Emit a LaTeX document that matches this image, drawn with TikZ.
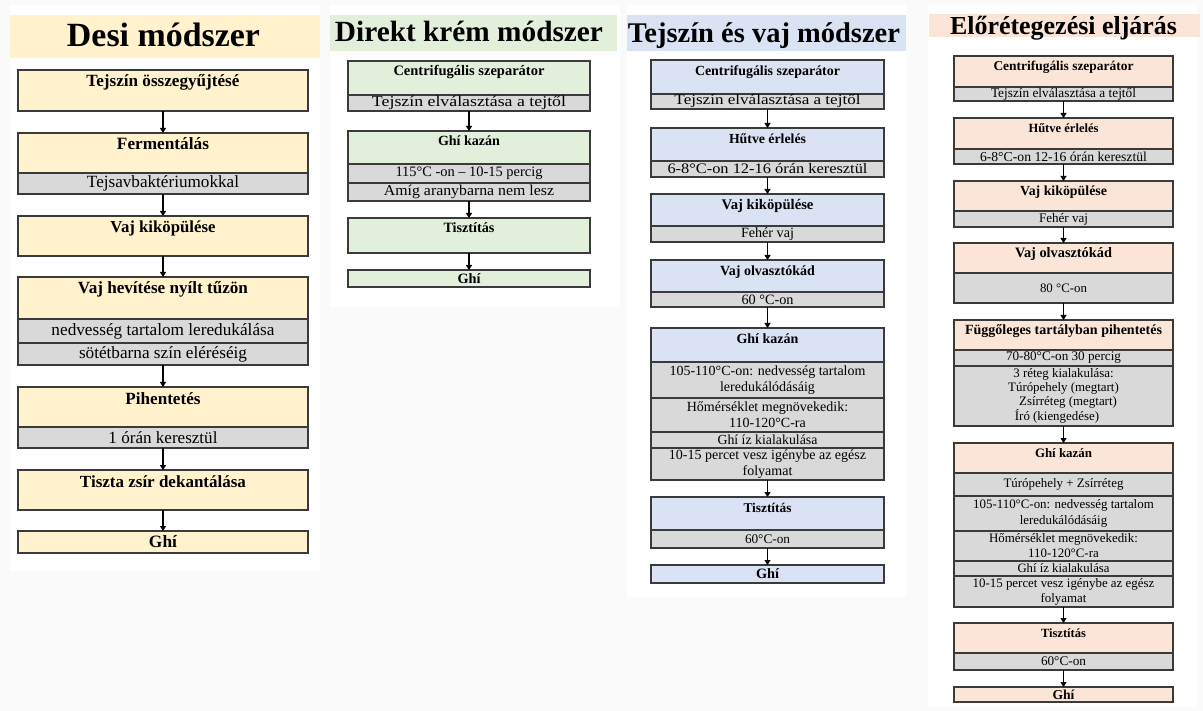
\documentclass[tikz,border=0pt]{standalone}
\usepackage{fontspec}
\setmainfont{Liberation Serif}
\usetikzlibrary{arrows.meta}
\definecolor{cy}{HTML}{FFF2CC}
\definecolor{cg}{HTML}{E2EFDA}
\definecolor{cb}{HTML}{DAE3F3}
\definecolor{cp}{HTML}{FBE5D6}
\definecolor{cgr}{HTML}{D9D9D9}
\definecolor{bgc}{HTML}{FAFAFA}
\definecolor{bd}{HTML}{3A3A3A}
\tikzset{
  box/.style={draw=bd, line width=1.2pt, rectangle, inner sep=0pt, outer sep=0pt, anchor=north west},
  band/.style={rectangle, inner sep=0pt, outer sep=0pt, anchor=north west},
  arr/.style={-{Triangle[length=5pt,width=6pt]}, line width=1.1pt, black},
}
\newcommand\Bw[2]{\resizebox{#1pt}{!}{\bfseries #2}}
\newcommand\Rw[2]{\resizebox{#1pt}{!}{#2}}
% regular text with fixed size, stretched to a given width
\newcommand\Rs[3]{\resizebox{#2pt}{\height}{\fontsize{#1}{#1}\selectfont #3}}
% heading box: name, colour, x1, y1, x2, y2, baseline offset, text
\newcommand\Hd[8]{%
  \node[box, fill=#2, minimum width={#5-#3}, minimum height={#6-#4}] (#1) at (#3,#4) {};
  \node[anchor=base, inner sep=0pt] (#1t) at ([yshift=-#7pt]#1.north) {#8};}
% centred box: name, colour, x1, y1, x2, y2, text
\newcommand\Cb[7]{%
  \node[box, fill=#2, minimum width={#5-#3}, minimum height={#6-#4}] (#1) at (#3,#4) {#7};}
% multi-line centred box: name, colour, x1, y1, x2, y2, font, text
\newcommand\Cm[8]{%
  \node[box, fill=#2, align=center, font=#7, minimum width={#5-#3}, minimum height={#6-#4}] (#1) at (#3,#4) {#8};}
\begin{document}
\begin{tikzpicture}[x=1pt,y=-1pt]
\useasboundingbox (0,0) rectangle (1203,711);
\fill[bgc] (0,0) rectangle (1203,711);
% panels
\fill[white] (10,5) rectangle (320,571);
\fill[white] (330,5) rectangle (620,307);
\fill[white] (627,5) rectangle (906,597);
\fill[white] (928,5) rectangle (1197,707);
% title bands
\node[band, fill=cy, minimum width=310, minimum height=43] (t1) at (10,15) {};
\node[anchor=base, inner sep=0pt] (t1t) at (163.5,47) {\Bw{193}{Desi módszer}};
\node[band, fill=cg, minimum width=287, minimum height=36] (t2) at (330,15) {};
\node[anchor=base, inner sep=0pt] (t2t) at (469,42) {\Bw{268}{Direkt krém módszer}};
\node[band, fill=cb, minimum width=279, minimum height=36] (t3) at (627,15) {};
\node[anchor=base, inner sep=0pt] (t3t) at (764,43) {\Bw{272}{Tejszín és vaj módszer}};
\node[band, fill=cp, minimum width=271, minimum height=23] (t4) at (929,14) {};
\node[anchor=base, inner sep=0pt] (t4t) at (1063.5,35) {\Bw{227}{Előrétegezési eljárás}};

% ---------- column 1 ----------
\Hd{a1}{cy}{18}{70}{308}{111}{17}{\Bw{153}{Tejszín összegyűjtésé}}
\Hd{a2}{cy}{18}{133}{308}{173}{17}{\Bw{92}{Fermentálás}}
\Cb{a2g}{cgr}{18}{173}{308}{194}{\Rw{152}{Tejsavbaktériumokkal}}
\Hd{a3}{cy}{18}{216}{308}{256}{17}{\Bw{105}{Vaj kiköpülése}}
\Hd{a4}{cy}{18}{277}{308}{319}{17}{\Bw{170}{Vaj hevítése nyílt tűzön}}
\Cb{a4g}{cgr}{18}{319}{308}{343}{\Rw{223}{nedvesség tartalom leredukálása}}
\Cb{a4h}{cgr}{18}{343}{308}{365}{\Rw{168}{sötétbarna szín eléréséig}}
\Hd{a5}{cy}{18}{387}{308}{427}{17}{\Bw{75}{Pihentetés}}
\Cb{a5g}{cgr}{18}{427}{308}{448}{\Rw{109}{1 órán keresztül}}
\Hd{a6}{cy}{18}{470}{308}{510}{17}{\Bw{166}{Tiszta zsír dekantálása}}
\Cb{a7}{cy}{18}{531}{308}{553}{\Bw{28}{Ghí}}
\draw[arr] (a1.south) -- (a2.north);
\draw[arr] (a2g.south) -- (a3.north);
\draw[arr] (a3.south) -- (a4.north);
\draw[arr] (a4h.south) -- (a5.north);
\draw[arr] (a5g.south) -- (a6.north);
\draw[arr] (a6.south) -- (a7.north);

% ---------- column 2 ----------
\Hd{b1}{cg}{348}{61}{590}{95}{15}{\Bw{151}{Centrifugális szeparátor}}
\Cb{b1g}{cgr}{348}{95}{590}{111}{\Rs{15}{194}{Tejszín elválasztása a tejtől}}
\Hd{b2}{cg}{348}{131}{590}{164}{15}{\Bw{62}{Ghí kazán}}
\Cb{b2g}{cgr}{348}{164}{590}{183}{\Rw{147}{115°C -on – 10-15 percig}}
\Cb{b2h}{cgr}{348}{183}{590}{201}{\Rs{15}{170}{Amíg aranybarna nem lesz}}
\Hd{b3}{cg}{348}{218}{590}{253}{15}{\Bw{51}{Tisztítás}}
\Cb{b4}{cg}{348}{270}{590}{287}{\Bw{23}{Ghí}}
\draw[arr] (b1g.south) -- (b2.north);
\draw[arr] (b2h.south) -- (b3.north);
\draw[arr] (b3.south) -- (b4.north);

% ---------- column 3 ----------
\Hd{c1}{cb}{651}{60}{884}{94}{15.5}{\Bw{145}{Centrifugális szeparátor}}
\Cb{c1g}{cgr}{651}{94}{884}{109}{\Rs{14.5}{186}{Tejszín elválasztása a tejtől}}
\Hd{c2}{cb}{651}{128}{884}{161}{15.5}{\Bw{77}{Hűtve érlelés}}
\Cb{c2g}{cgr}{651}{161}{884}{177}{\Rs{14.5}{200}{6-8°C-on 12-16 órán keresztül}}
\Hd{c3}{cb}{651}{194}{884}{226}{15.5}{\Bw{92}{Vaj kiköpülése}}
\Cb{c3g}{cgr}{651}{226}{884}{242}{\Rw{53}{Fehér vaj}}
\Hd{c4}{cb}{651}{260}{884}{292}{15.5}{\Bw{95}{Vaj olvasztókád}}
\Cb{c4g}{cgr}{651}{292}{884}{307}{\Rw{52}{60 °C-on}}
\Hd{c5}{cb}{651}{328}{884}{362}{15.5}{\Bw{62}{Ghí kazán}}
\Cm{c5g}{cgr}{651}{362}{884}{398}{\fontsize{14}{16}\selectfont}{105-110°C-on: nedvesség tartalom\\leredukálódásáig}
\Cm{c5h}{cgr}{651}{398}{884}{432}{\fontsize{14}{16}\selectfont}{Hőmérséklet megnövekedik:\\110-120°C-ra}
\Cb{c5i}{cgr}{651}{432}{884}{448}{\Rw{100}{Ghí íz kialakulása}}
\Cm{c5j}{cgr}{651}{448}{884}{480}{\fontsize{14}{16}\selectfont}{10-15 percet vesz igénybe az egész\\folyamat}
\Hd{c6}{cb}{651}{497}{884}{530}{15.5}{\Bw{48}{Tisztítás}}
\Cb{c6g}{cgr}{651}{530}{884}{548}{\Rw{45}{60°C-on}}
\Cb{c7}{cb}{651}{565}{884}{583}{\Bw{23}{Ghí}}
\draw[arr] (c1g.south) -- (c2.north);
\draw[arr] (c2g.south) -- (c3.north);
\draw[arr] (c3g.south) -- (c4.north);
\draw[arr, line width=1.8pt] (c4g.south) -- (c5.north);
\draw[arr] (c5j.south) -- (c6.north);
\draw[arr] (c6g.south) -- (c7.north);

% ---------- column 4 ----------
\Hd{d1}{cp}{954}{56}{1173}{87}{14.5}{\Bw{140}{Centrifugális szeparátor}}
\Cb{d1g}{cgr}{954}{87}{1173}{101}{\Rw{145}{Tejszín elválasztása a tejtől}}
\Hd{d2}{cp}{954}{118}{1173}{149}{14.5}{\Bw{70}{Hűtve érlelés}}
\Cb{d2g}{cgr}{954}{149}{1173}{164}{\Rw{167}{6-8°C-on 12-16 órán keresztül}}
\Hd{d3}{cp}{954}{181}{1173}{211}{14.5}{\Bw{87}{Vaj kiköpülése}}
\Cb{d3g}{cgr}{954}{211}{1173}{227}{\Rw{49}{Fehér vaj}}
\Hd{d4}{cp}{954}{243}{1173}{273}{14.5}{\Bw{97}{Vaj olvasztókád}}
\Cb{d4g}{cgr}{954}{273}{1173}{303}{\Rw{47}{80 °C-on}}
\Hd{d5}{cp}{954}{320}{1173}{350}{14.5}{\Bw{197}{Függőleges tartályban pihentetés}}
\Cb{d5g}{cgr}{954}{350}{1173}{366}{\Rw{115}{70-80°C-on 30 percig}}
\Cm{d5h}{cgr}{954}{366}{1173}{426}{\fontsize{12.9}{13.8}\selectfont}{3 réteg kialakulása:\\Túrópehely (megtart)\\\mbox{}\hspace*{9pt}Zsírréteg (megtart)\\Író (kiengedése)\hspace*{13pt}\mbox{}}
\Hd{d6}{cp}{954}{443}{1173}{473}{14.5}{\Bw{57}{Ghí kazán}}
\Cb{d6g}{cgr}{954}{473}{1173}{496}{\Rw{120}{Túrópehely + Zsírréteg}}
\Cm{d6h}{cgr}{954}{496}{1173}{531}{\fontsize{12.9}{15.5}\selectfont}{105-110°C-on: nedvesség tartalom\\leredukálódásáig}
\Cm{d6i}{cgr}{954}{531}{1173}{561}{\fontsize{12.9}{15}\selectfont}{Hőmérséklet megnövekedik:\\110-120°C-ra}
\Cb{d6j}{cgr}{954}{561}{1173}{576}{\Rw{92}{Ghí íz kialakulása}}
\Cm{d6k}{cgr}{954}{576}{1173}{607}{\fontsize{12.9}{15}\selectfont}{10-15 percet vesz igénybe az egész\\folyamat}
\Hd{d7}{cp}{954}{623}{1173}{653}{14.5}{\Bw{45}{Tisztítás}}
\Cb{d7g}{cgr}{954}{653}{1173}{670}{\Rw{45}{60°C-on}}
\Cb{d8}{cp}{954}{687}{1173}{702}{\Bw{22}{Ghí}}
\draw[arr] (d1g.south) -- (d2.north);
\draw[arr] (d2g.south) -- (d3.north);
\draw[arr] (d3g.south) -- (d4.north);
\draw[arr] (d4g.south) -- (d5.north);
\draw[arr] (d5h.south) -- (d6.north);
\draw[arr] (d6k.south) -- (d7.north);
\draw[arr] (d7g.south) -- (d8.north);
\end{tikzpicture}
\end{document}
